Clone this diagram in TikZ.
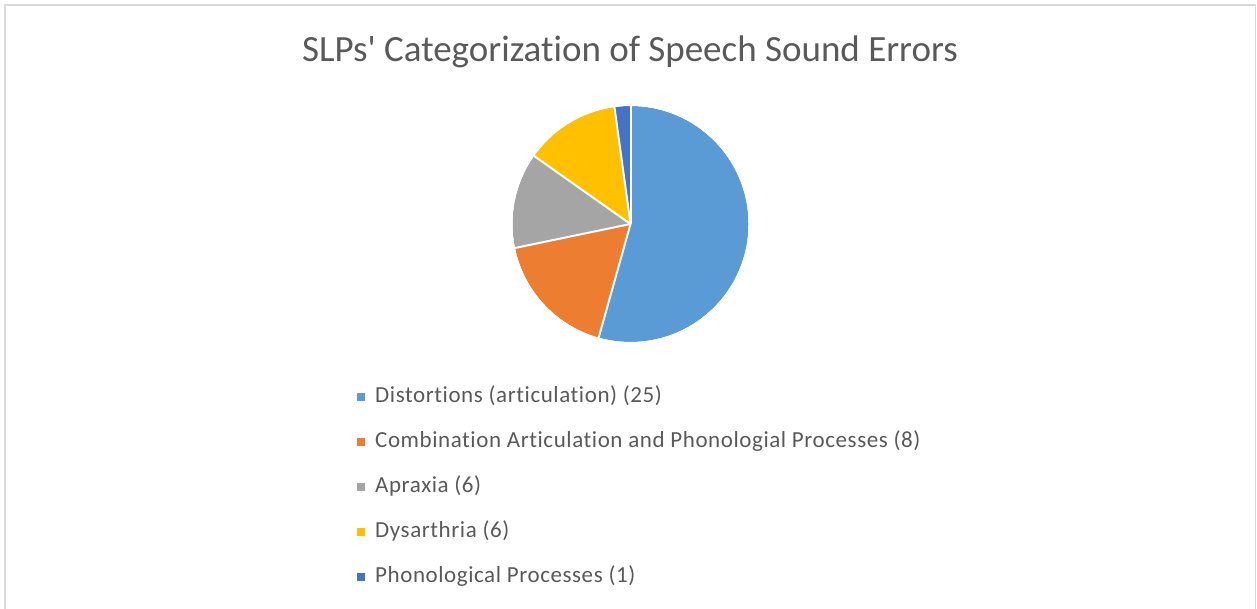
\documentclass[tikz,border=0pt]{standalone}
\usepackage{fontspec}
\setmainfont{Carlito}[Ligatures={NoCommon,TeXOff}]
\newfontfamily\legfont{Carlito}[Ligatures={NoCommon,TeXOff},LetterSpace=2.5]
\definecolor{cBlue}{HTML}{5B9BD5}
\definecolor{cOrange}{HTML}{ED7D31}
\definecolor{cGray}{HTML}{A5A5A5}
\definecolor{cYellow}{HTML}{FFC000}
\definecolor{cDark}{HTML}{4472C4}
\definecolor{txt}{HTML}{595959}
\definecolor{frame}{HTML}{D9D9D9}
\begin{document}
\begin{tikzpicture}[x=1pt,y=1pt,
  slice/.style={draw=white,line width=2pt,line join=round},
  legtext/.style={anchor=base west,inner sep=0pt,text=txt,font=\legfont\fontsize{23}{26}\selectfont},
  legmark/.style={minimum size=8pt,inner sep=0pt,anchor=center}]
\useasboundingbox (0,0) rectangle (1257,609);
\draw[frame,line width=1.5pt] (5,0) -- (5,604) -- (1255.5,604) -- (1255.5,0);
\node[anchor=base,text=txt,font=\fontsize{37}{40}\selectfont,inner sep=0pt] (title) at (630,547.5) {SLPs' Categorization of Speech Sound Errors};
\coordinate (c) at (630.5,385);
\def\R{118}
\fill[cBlue] (c) -- ++(90:\R) arc[start angle=90,end angle=-105.652,radius=\R] -- cycle;
\fill[cOrange] (c) -- ++(-105.652:\R) arc[start angle=-105.652,end angle=-168.261,radius=\R] -- cycle;
\fill[cGray] (c) -- ++(-168.261:\R) arc[start angle=-168.261,end angle=-215.217,radius=\R] -- cycle;
\fill[cYellow] (c) -- ++(-215.217:\R) arc[start angle=-215.217,end angle=-262.174,radius=\R] -- cycle;
\fill[cDark] (c) -- ++(-262.174:\R) arc[start angle=-262.174,end angle=-270,radius=\R] -- cycle;
\foreach \a in {90,-105.652,-168.261,-215.217,-262.174}{\draw[slice] (c) -- ++(\a:\R);}
\draw[white,line width=2pt] (c) circle[radius=\R+1];
\foreach \i/\col/\lab [count=\k] in {0/cBlue/{Distortions (articulation) (25)},1/cOrange/{Combination Articulation and Phonologial Processes (8)},2/cGray/{Apraxia (6)},3/cYellow/{Dysarthria (6)},4/cDark/{Phonological Processes (1)}}{
  \node[legtext] (l\k) at (375,{206-45*\i}) {\lab};
  \node[legmark,fill=\col] (m\k) at (361,{211.5-45*\i}) {};
}
\end{tikzpicture}
\end{document}
